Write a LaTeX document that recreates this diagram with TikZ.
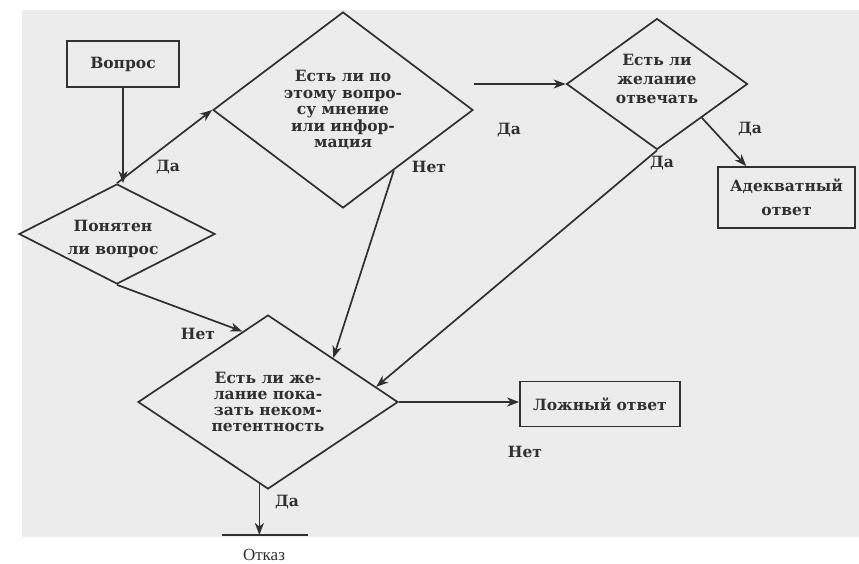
\documentclass[tikz,border=0pt]{standalone}
\usepackage{fontspec}
\setmainfont{DejaVu Serif}
\newfontfamily\timesf{Liberation Serif}
\usetikzlibrary{shapes.geometric,arrows.meta,calc}
\definecolor{ink}{HTML}{303030}
\definecolor{paper}{HTML}{ECECEC}
\begin{document}
\begin{tikzpicture}[x=1pt,y=-1pt,
  every node/.style={text=ink, font=\bfseries\fontsize{15.5}{16}\selectfont},
  box/.style={draw=ink, line width=1.7pt, rectangle, inner sep=0pt, align=center},
  dia/.style={draw=ink, line width=1.7pt, diamond, shape aspect=1.5, inner sep=0pt, align=center},
  txt/.style={align=center, inner sep=0pt},
  arr/.style={draw=ink, line width=1.7pt, -{Stealth[length=12pt,width=9pt,inset=3.5pt]}},
  lbl/.style={font=\bfseries\fontsize{15.5}{16}\selectfont}]
\useasboundingbox (0,0) rectangle (859,563);
\fill[paper] (22,10) rectangle (859,537);

% nodes
\node[box, minimum width=112pt, minimum height=46pt] (q) at (123,64) {Вопрос};
\node[dia, minimum width=196pt, minimum height=100pt] (d1) at (117,234) {};
\node[txt, font=\bfseries\fontsize{15.5}{23}\selectfont] (d1t) at (113,239) {Понятен\\ли вопрос};
\node[dia, minimum width=260pt, minimum height=196pt, font=\bfseries\fontsize{15.5}{16.5}\selectfont] (d2) at (343,110) {Есть ли по\\этому вопро-\\су мнение\\или инфор-\\мация};
\node[dia, minimum width=181pt, minimum height=131pt] (d3) at (657,84) {};
\node[txt, font=\bfseries\fontsize{15.5}{19}\selectfont] (d3t) at (657,79) {Есть ли\\желание\\отвечать};
\node[box, minimum width=137pt, minimum height=61pt, font=\bfseries\fontsize{15.5}{24}\selectfont] (a) at (786.5,197.5) {Адекватный\\ответ};
\node[dia, minimum width=260pt, minimum height=174pt, font=\bfseries\fontsize{15.5}{16}\selectfont] (d4) at (268,402) {Есть ли же-\\лание пока-\\зать неком-\\петентность};
\node[box, minimum width=160pt, minimum height=45pt] (l) at (600,404) {Ложный ответ};
\coordinate (otkL) at (222,535);
\coordinate (otkR) at (308,535);
\coordinate (otk) at (259,535);
\node[font=\timesf\fontsize{17}{18}\selectfont] (otkt) at (264,555) {Отказ};

% connectors
\draw[arr] (q.south) -- (q.south |- d1.north);
\draw[arr] (d1.north) -- (d2.west);
\draw[arr] (d2.east |- d3.west) -- (d3.west);
\draw[arr] (d3.-37) -- ($(a.north west)!0.21!(a.north east)$);
\draw[arr] (d3.south) -- (d4.8);
\draw[arr] (d1.south) -- (d4.110);
\draw[arr] (d2.-50) -- (d4.34);
\draw[arr] (d4.east) -- (d4.east -| l.west);
\draw[arr] (d4.-96) -- (d4.-96 |- otk);
\draw[draw=ink, line width=1.7pt] (otkL) -- (otkR);

% labels
\node[lbl] (y1) at (168,167) {Да};
\node[lbl] (y2) at (509,130) {Да};
\node[lbl] (y3) at (750,129) {Да};
\node[lbl] (y4) at (662,163) {Да};
\node[lbl] (n1) at (429,167) {Нет};
\node[lbl] (n2) at (198,334) {Нет};
\node[lbl] (n3) at (525,452) {Нет};
\node[lbl] (y5) at (287,502) {Да};
\end{tikzpicture}
\end{document}
